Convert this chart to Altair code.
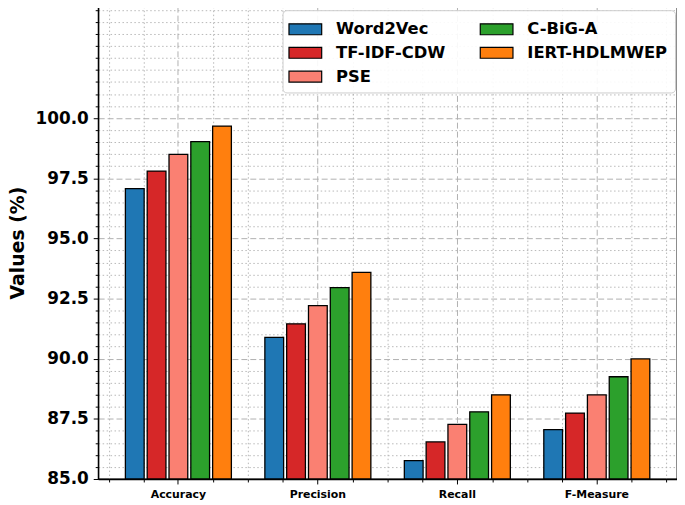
import altair as alt
import pandas as pd

metrics = ["Accuracy", "Precision", "Recall", "F-Measure"]
methods = ["Word2Vec", "TF-IDF-CDW", "PSE", "C-BiG-A", "IERT-HDLMWEP"]
word2vec = [97.07, 90.89, 85.76, 87.05]
tfidf_cdw = [97.80, 91.45, 86.54, 87.74]
pse = [98.49, 92.21, 87.27, 88.50]
cbiga = [99.02, 92.95, 87.79, 89.25]
iert = [99.67, 93.59, 88.50, 89.99]
colors = ["#1f77b4", "#d62728", "#fa8072", "#2ca02c", "#ff7f0e"]
y_major = [85.0, 87.5, 90.0, 92.5, 95.0, 97.5, 100.0]

series = [word2vec, tfidf_cdw, pse, cbiga, iert]
rows = []
for name, vals in zip(methods, series):
    for m, v in zip(metrics, vals):
        rows.append({"Metric": m, "Method": name, "Value": v})
df = pd.DataFrame(rows)

y_min, y_max = 85.0, 104.65
x_lo, x_hi = -0.575, 3.575
y_minor = [round(85 + 0.5 * i, 2) for i in range(40) if 85 + 0.5 * i <= y_max and (85 + 0.5 * i) not in y_major]
x_minor = [round(-0.5 + 0.25 * i, 2) for i in range(17) if (-0.5 + 0.25 * i) % 1 != 0]

FONT = "DejaVu Sans"
GRID = "#b0b0b0"

grid = alt.Chart(df).mark_point(opacity=0).encode(
    x=alt.XDatum(
        0, type="quantitative",
        scale=alt.Scale(domain=[x_lo, x_hi], nice=False, zero=False),
        axis=alt.Axis(values=x_minor, orient="bottom", grid=True, gridDash=[1.5, 2.5],
                      gridColor=GRID, gridWidth=0.9, labels=False, ticks=True, tickSize=3,
                      tickColor="black", tickWidth=1, domain=False, title=None),
    ),
    y=alt.Y("Value:Q",
            scale=alt.Scale(domain=[y_min, y_max], nice=False, zero=False),
            axis=alt.Axis(values=y_minor, orient="left", grid=True, gridDash=[1.5, 2.5],
                          gridColor=GRID, gridWidth=0.9, labels=False, ticks=True, tickSize=3,
                          tickColor="black", tickWidth=1, domain=False, title=None)),
)

bars = alt.Chart(df).mark_bar(stroke="black", strokeWidth=1.3).encode(
    x=alt.X("Metric:N", sort=metrics,
            scale=alt.Scale(paddingInner=0.24, paddingOuter=0.195),
            axis=alt.Axis(orient="bottom", labelAngle=0, grid=True, gridDash=[6, 3],
                          gridColor=GRID, gridWidth=1, tickSize=5, tickColor="black",
                          tickWidth=1, labelFont=FONT, labelFontWeight="bold",
                          labelFontSize=11, labelColor="black", labelPadding=5,
                          domain=True, domainColor="black", domainWidth=1.3, title=None)),
    xOffset=alt.XOffset("Method:N", sort=methods,
                        scale=alt.Scale(paddingInner=0.14, paddingOuter=0)),
    y=alt.Y("Value:Q",
            scale=alt.Scale(domain=[y_min, y_max], nice=False, zero=False),
            axis=alt.Axis(values=y_major, format=".1f", orient="left", grid=True,
                          gridDash=[6, 3], gridColor=GRID, gridWidth=1, tickSize=5,
                          tickColor="black", tickWidth=1, labelFont=FONT,
                          labelFontWeight="bold", labelFontSize=17, labelColor="black",
                          labelPadding=5, domain=True, domainColor="black", domainWidth=1.3,
                          title="Values (%)", titleFont=FONT, titleFontWeight="bold",
                          titleFontSize=19, titleColor="black", titlePadding=8)),
    y2=alt.datum(y_min),
    color=alt.Color("Method:N",
                    scale=alt.Scale(domain=methods, range=colors),
                    legend=alt.Legend(
                        title=None, orient="none", legendX=186, legendY=4, columns=2,
                        symbolType="M-1.5,-0.5H1.5V0.5H-1.5Z", symbolSize=484,
                        symbolStrokeColor="black", symbolStrokeWidth=1.2,
                        symbolOffset=4,
                        labelFont=FONT, labelFontWeight="bold", labelFontSize=16.5,
                        labelColor="black", labelOffset=19, labelLimit=400,
                        rowPadding=3, columnPadding=32, padding=7,
                        fillColor="rgba(255,255,255,0.9)", strokeColor="#cccccc",
                        cornerRadius=4)),
)

chart = alt.layer(grid, bars).resolve_scale(x="independent").resolve_axis(
    x="independent", y="independent"
).properties(
    width=584, height=477,
    padding={"left": 0, "top": -4, "right": 0, "bottom": 0},
).configure_view(stroke="black", strokeWidth=1.3)

chart.save("out.html", embed_options={"renderer": "svg", "actions": False})
